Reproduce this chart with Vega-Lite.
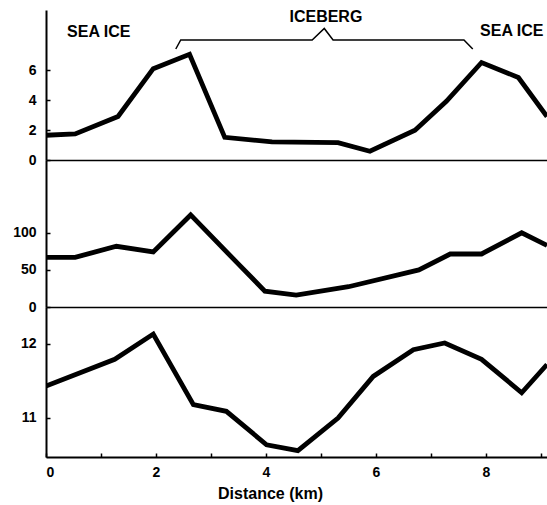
{
  "$schema": "https://vega.github.io/schema/vega-lite/v6.json",
  "padding": {"left": 5, "top": 8, "right": 0, "bottom": 5},
  "spacing": 0,
  "bounds": "flush",
  "config": {
    "view": {"stroke": null},
    "concat": {"spacing": 0},
    "axis": {"labelFont": "Liberation Sans", "labelFontWeight": "bold", "labelFontSize": 14, "labelColor": "black", "domainColor": "black", "domainWidth": 2, "tickColor": "black", "tickWidth": 1.5, "grid": false, "titleFont": "Liberation Sans", "titleFontWeight": "bold", "titleColor": "black"},
    "text": {"font": "Liberation Sans", "fontWeight": "bold", "fontSize": 16, "color": "black"}
  },
  "datasets": {
    "top": [
      {"d": 0, "v": 1.65}, {"d": 0.53, "v": 1.74}, {"d": 1.31, "v": 2.9}, {"d": 1.95, "v": 6.09}, {"d": 2.61, "v": 7.05}, {"d": 3.25, "v": 1.51}, {"d": 4.11, "v": 1.21}, {"d": 5.31, "v": 1.16}, {"d": 5.89, "v": 0.58}, {"d": 6.71, "v": 1.98}, {"d": 7.28, "v": 3.91}, {"d": 7.92, "v": 6.5}, {"d": 8.59, "v": 5.5}, {"d": 9.11, "v": 2.9}
    ],
    "mid": [
      {"d": 0, "v": 66.8}, {"d": 0.53, "v": 66.8}, {"d": 1.28, "v": 81.8}, {"d": 1.95, "v": 74.1}, {"d": 2.63, "v": 124}, {"d": 3.5, "v": 57.7}, {"d": 3.98, "v": 21.4}, {"d": 4.55, "v": 15.9}, {"d": 5.5, "v": 27.3}, {"d": 6.78, "v": 50}, {"d": 7.35, "v": 71.4}, {"d": 7.92, "v": 71.4}, {"d": 8.65, "v": 100}, {"d": 9.11, "v": 83}
    ],
    "bot": [
      {"d": 0, "v": 11.43}, {"d": 1.25, "v": 11.79}, {"d": 1.95, "v": 12.13}, {"d": 2.68, "v": 11.18}, {"d": 3.28, "v": 11.09}, {"d": 4.01, "v": 10.64}, {"d": 4.58, "v": 10.56}, {"d": 5.31, "v": 11.0}, {"d": 5.95, "v": 11.56}, {"d": 6.68, "v": 11.92}, {"d": 7.25, "v": 12.01}, {"d": 7.92, "v": 11.79}, {"d": 8.65, "v": 11.34}, {"d": 9.11, "v": 11.72}
    ],
    "bracket": [
      {"d": 2.36, "v": 7.4}, {"d": 2.45, "v": 8.0}, {"d": 4.84, "v": 8.0}, {"d": 5.06, "v": 8.77}, {"d": 5.22, "v": 8.0}, {"d": 7.6, "v": 8.0}, {"d": 7.76, "v": 7.4}
    ],
    "labels": [
      {"d": 0.96, "v": 8.53, "t": "SEA ICE"}, {"d": 5.09, "v": 9.55, "t": "ICEBERG"}, {"d": 8.47, "v": 8.63, "t": "SEA ICE"}
    ]
  },
  "vconcat": [
    {
      "width": 501, "height": 150,
      "layer": [
        {
          "data": {"name": "top"},
          "mark": {"type": "line", "color": "black", "strokeWidth": 4.8, "clip": true},
          "encoding": {
            "x": {"field": "d", "type": "quantitative", "scale": {"domain": [0, 9.11], "nice": false, "zero": false}, "axis": {"labels": false, "ticks": false, "title": null, "domainWidth": 1.5, "minExtent": 0, "maxExtent": 0}},
            "y": {"field": "v", "type": "quantitative", "scale": {"domain": [0, 10], "nice": false}, "axis": {"values": [0, 2, 4, 6], "title": null, "tickSize": -4, "labelPadding": 14, "minExtent": 41, "maxExtent": 41}}
          }
        },
        {
          "data": {"name": "bracket"},
          "mark": {"type": "line", "color": "black", "strokeWidth": 1.5},
          "encoding": {
            "x": {"field": "d", "type": "quantitative"},
            "y": {"field": "v", "type": "quantitative"}
          }
        },
        {
          "data": {"name": "labels"},
          "mark": {"type": "text"},
          "encoding": {
            "x": {"field": "d", "type": "quantitative"},
            "y": {"field": "v", "type": "quantitative"},
            "text": {"field": "t"}
          }
        },
        {
          "mark": {"type": "rule", "color": "black", "strokeWidth": 1.5},
          "encoding": {"y": {"datum": 10}}
        }
      ]
    },
    {
      "width": 501, "height": 147,
      "data": {"name": "mid"},
      "mark": {"type": "line", "color": "black", "strokeWidth": 4.8, "clip": true},
      "encoding": {
        "x": {"field": "d", "type": "quantitative", "scale": {"domain": [0, 9.11], "nice": false, "zero": false}, "axis": {"labels": false, "ticks": false, "title": null, "domainWidth": 1.5, "minExtent": 0, "maxExtent": 0}},
        "y": {"field": "v", "type": "quantitative", "scale": {"domain": [0, 198], "nice": false}, "axis": {"values": [0, 50, 100], "title": null, "tickSize": -4, "labelPadding": 14, "minExtent": 41, "maxExtent": 41}}
      }
    },
    {
      "width": 501, "height": 150,
      "data": {"name": "bot"},
      "mark": {"type": "line", "color": "black", "strokeWidth": 4.8, "clip": true},
      "encoding": {
        "x": {"field": "d", "type": "quantitative", "scale": {"domain": [0, 9.11], "nice": false, "zero": false}, "axis": {"values": [0, 1, 2, 3, 4, 5, 6, 7, 8, 9], "labelExpr": "datum.value % 2 == 0 ? datum.label : ''", "tickSize": -4, "labelPadding": 12, "labelFontSize": 14, "title": "Distance (km)", "titleFontSize": 16, "titlePadding": 6, "titleX": 224}},
        "y": {"field": "v", "type": "quantitative", "scale": {"domain": [10.475, 12.494], "nice": false, "zero": false}, "axis": {"values": [11, 12], "title": null, "tickSize": -4, "labelPadding": 14, "minExtent": 41, "maxExtent": 41}}
      }
    }
  ]
}
